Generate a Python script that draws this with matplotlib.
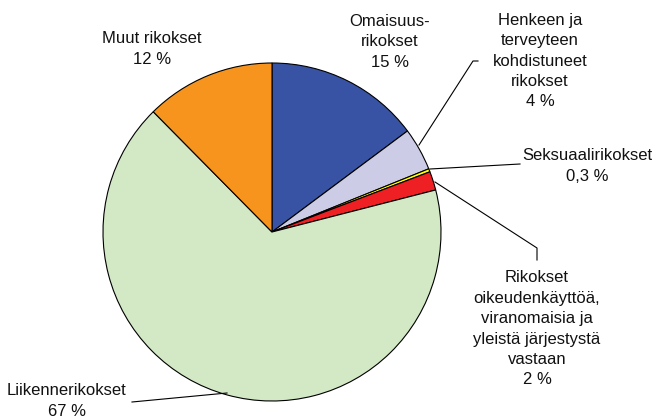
import matplotlib
matplotlib.use("Agg")
import matplotlib.pyplot as plt

# DATA

categories = ["Omaisuus-\nrikokset", "Henkeen ja\nterveyteen\nkohdistuneet\nrikokset",
              "Seksuaalirikokset", "Rikokset\noikeudenkäyttöä,\nviranomaisia ja\nyleistä järjestystä\nvastaan",
              "Liikennerikokset", "Muut rikokset"]
shares = [14.8, 4.1, 0.3, 1.8, 66.6, 12.4]
share_labels = ["15 %", "4 %", "0,3 %", "2 %", "67 %", "12 %"]
colors = ["#3953a4", "#cccce6", "#ffff00", "#ee2024", "#d3e9c6", "#f7941d"]

plt.rcParams['font.family'] = ['Liberation Sans', 'DejaVu Sans']

# FIGURE, axes in pixel coordinates (y down)

fig = plt.figure(figsize=(6.56, 4.18), dpi=100)
ax = fig.add_axes([0, 0, 1, 1])

# y axis is flipped, so start at -90 and go "counterclockwise" to get clockwise from top
ax.pie(shares, colors=colors, center=(272, 232), radius=169, startangle=-90,
       counterclock=True, frame=True,
       wedgeprops=dict(edgecolor='black', linewidth=0.8))
ax.set_xlim(0, 656)
ax.set_ylim(418, 0)
ax.set_aspect('equal')
ax.axis('off')

# LABELS

label_pos = [(390, 42), (540, 61), (587, 166), (537, 329), (67, 401), (152, 49)]
for name, pct, (x, y) in zip(categories, share_labels, label_pos):
    ax.text(x, y, name + "\n" + pct, ha='center', va='center', fontsize=12,
            linespacing=1.45, color='#111111')

# LEADER LINES

leaders = [
    ([419, 473, 478], [145, 61, 61]),
    ([430, 520], [169, 164]),
    ([435, 537, 537], [182, 248, 260]),
    ([132, 227], [402, 393]),
]
for xs, ys in leaders:
    ax.plot(xs, ys, color='black', lw=0.8)

fig.savefig("out.png", dpi=100)
